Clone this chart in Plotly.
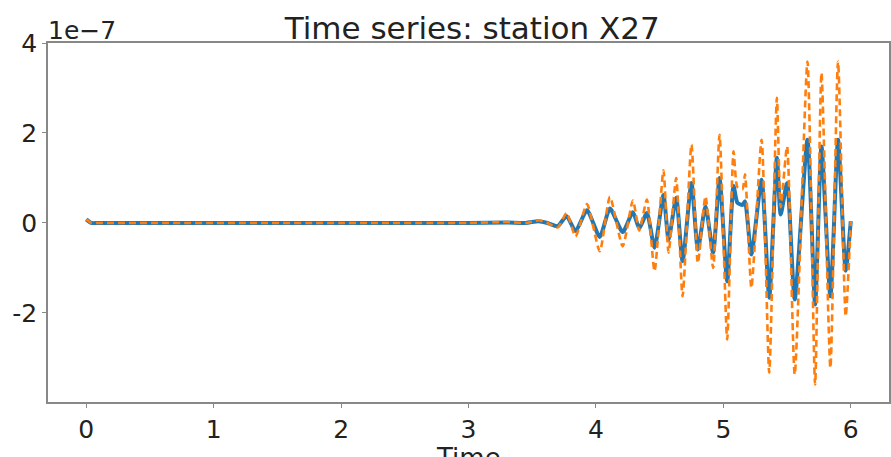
import plotly.graph_objects as go

# Time axis (s) and station traces (values in units of 1e-7)
time = [0.00, 0.04, 0.10, 1.00, 2.00, 2.90, 3.00, 3.30, 3.45, 3.55, 3.62, 3.70, 3.77, 3.84, 3.93, 4.03,
        4.11, 4.21, 4.29, 4.34, 4.40, 4.46, 4.53, 4.57, 4.63, 4.68, 4.75, 4.80, 4.86, 4.92, 4.97, 5.03,
        5.08, 5.11, 5.15, 5.17, 5.22, 5.30, 5.36, 5.42, 5.45, 5.50, 5.56, 5.66, 5.72, 5.77,
        5.84, 5.90, 5.96, 6.00]
series_solid = [0.08, 0.00, 0.00, 0.00, 0.00, 0.00, 0.00, 0.01, 0.00, 0.04, 0.00, -0.07, 0.15, -0.18, 0.28, -0.31,
                0.32, -0.20, 0.24, -0.12, 0.22, -0.55, 0.62, -0.37, 0.56, -0.85, 0.89, -0.59, 0.37, -0.66, 1.00, -1.30,
                0.82, 0.45, 0.40, 0.48, -0.70, 0.96, -1.66, 1.45, 0.19, 0.89, -1.70, 1.85, -1.81, 1.70,
                -1.63, 1.85, -1.06, 0.04]
series_dashed = [0.08, 0.00, 0.00, 0.00, 0.00, 0.00, 0.00, 0.02, 0.00, 0.06, 0.00, -0.10, 0.22, -0.30, 0.42, -0.63,
                 0.58, -0.52, 0.50, -0.17, 0.52, -1.07, 1.17, -0.66, 1.00, -1.63, 1.74, -0.89, 0.59, -1.00, 1.96, -2.59,
                 1.59, 0.80, 0.75, 1.08, -1.44, 1.85, -3.33, 2.78, 0.35, 1.70, -3.37, 3.59, -3.59, 3.34,
                 -3.22, 3.59, -2.07, 0.04]

x_ticks = [0, 1, 2, 3, 4, 5, 6]
y_ticks = [-2, 0, 2, 4]
y_ticktext = ["-2", "0", "2", "4"]

FONT = "DejaVu Sans"
TXT = "#222222"

fig = go.Figure()
fig.add_trace(go.Scatter(x=time, y=series_solid, mode="lines",
                         line=dict(color="#1f77b4", width=4, shape="spline", smoothing=0.6),
                         showlegend=False))
fig.add_trace(go.Scatter(x=time, y=series_dashed, mode="lines",
                         line=dict(color="#ff7f0e", width=2.6, dash="7px,4px",
                                   shape="spline", smoothing=0.6),
                         showlegend=False))

fig.update_layout(
    width=891, height=457,
    margin=dict(l=48, r=0, t=43, b=55),
    paper_bgcolor="white", plot_bgcolor="white",
    font=dict(family=FONT, size=24, color=TXT),
    title=dict(text="Time series: station X27", x=0.53, xanchor="center",
               y=0.915, yref="container", yanchor="bottom",
               font=dict(family=FONT, size=31, color=TXT)),
)

fig.update_xaxes(range=[-0.3, 6.3], tickvals=x_ticks, showgrid=False, zeroline=False,
                 showline=True, linecolor="#888888", linewidth=1.5, mirror=True,
                 ticks="outside", ticklen=4, tickcolor="#888888", tickwidth=1,
                 tickfont=dict(family=FONT, size=25, color=TXT))
fig.update_yaxes(range=[-3.98, 4.0], tickvals=y_ticks, ticktext=y_ticktext, showgrid=False,
                 zeroline=False, showline=True, linecolor="#888888", linewidth=1.5, mirror=True,
                 ticks="outside", ticklen=4, tickcolor="#888888", tickwidth=1,
                 tickfont=dict(family=FONT, size=25, color=TXT))

fig.add_annotation(text="1e\u22127", xref="paper", yref="paper", x=0.0, y=1.0,
                   xanchor="left", yanchor="bottom", showarrow=False, yshift=-4, xshift=-2,
                   font=dict(family=FONT, size=25, color=TXT))
fig.add_annotation(text="Time", xref="paper", yref="paper", x=0.5, y=-0.11,
                   xanchor="center", yanchor="top", showarrow=False,
                   font=dict(family=FONT, size=26, color=TXT))

fig.write_html("out.html")
